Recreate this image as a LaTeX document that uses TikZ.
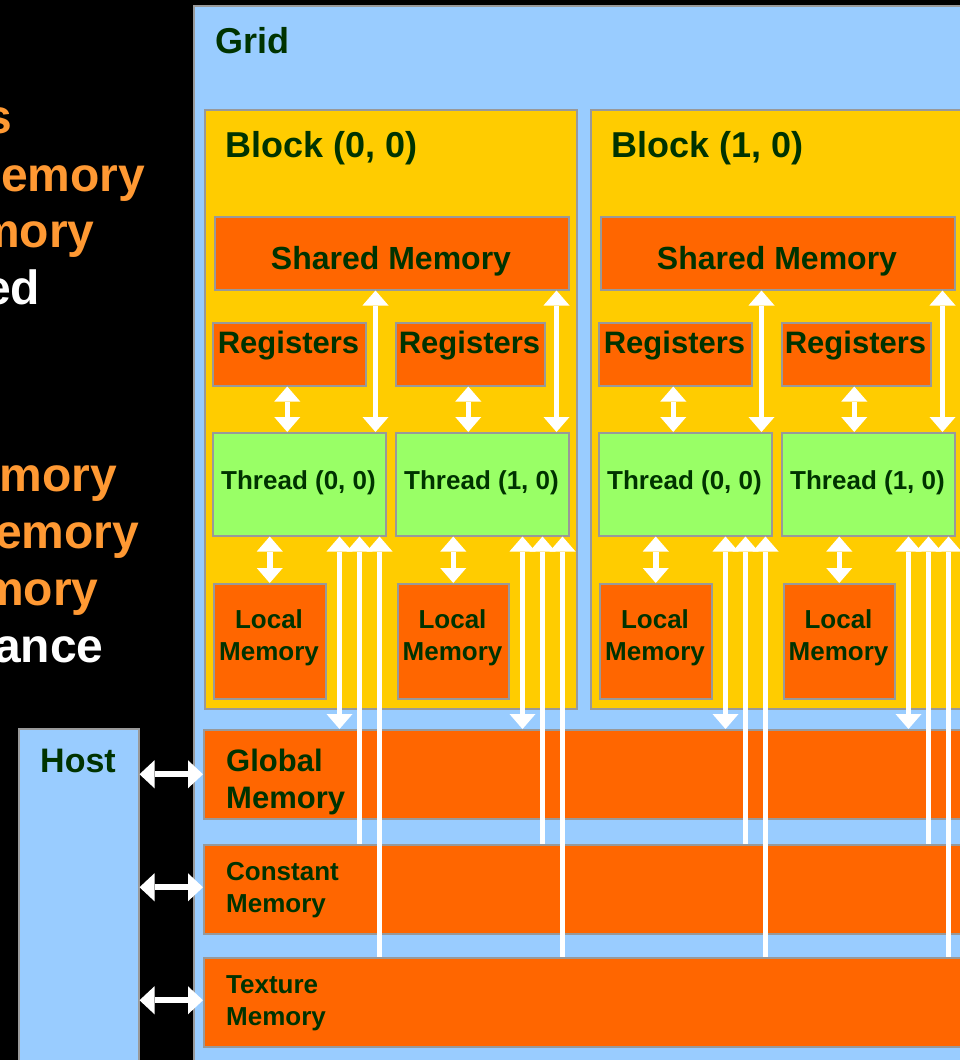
\documentclass[tikz,border=0pt]{standalone}
\usepackage{fontspec}
\setmainfont{Liberation Sans}
\usetikzlibrary{arrows.meta}
\definecolor{gblue}{HTML}{99CCFF}
\definecolor{gyel}{HTML}{FFCC00}
\definecolor{gorg}{HTML}{FF6600}
\definecolor{ggrn}{HTML}{99FF66}
\definecolor{gtxt}{HTML}{003300}
\definecolor{gedge}{HTML}{999999}
\definecolor{lorg}{HTML}{FF9933}
\begin{document}
\begin{tikzpicture}[x=1pt,y=-1pt,
  box/.style={draw=gedge,line width=1.5pt,inner sep=0pt,anchor=north west},
  txt/.style={text=gtxt,inner sep=0pt,font=\bfseries\fontsize{#1}{#1}\selectfont},
  side/.style={inner sep=0pt,anchor=base west,font=\bfseries\fontsize{48}{48}\selectfont},
  arr/.style={draw=white,line width=5.5pt},
  dbl/.style={arr,{Triangle[width=26pt,length=15pt,line width=0pt]}-{Triangle[width=26pt,length=15pt,line width=0pt]}},
  upa/.style={arr,{Triangle[width=26pt,length=15pt,line width=0pt]}-},
  harr/.style={draw=white,line width=6pt,{Triangle[width=28pt,length=15pt,line width=0pt]}-{Triangle[width=28pt,length=15pt,line width=0pt]}}
]
\fill[black] (0,0) rectangle (960,1060);
\useasboundingbox (0,0) rectangle (960,1060);
\begin{scope}
\clip (0,0) rectangle (960,1060);
% left side text fragments
\node[side,text=lorg] (l1) at (-15,133) {s};
\node[side,text=lorg] (l2) at (1,191) {emory};
\node[side,text=lorg] (l3) at (-23,247) {mory};
\node[side,text=white] (l4) at (-16,304) {ed};
\node[side,text=lorg] (l5) at (-27,491) {emory};
\node[side,text=lorg] (l6) at (-5,548) {emory};
\node[side,text=lorg] (l7) at (-19,605) {mory};
\node[side,text=white] (l8) at (-6,662) {ance};
% grid
\node[box,fill=gblue,minimum width=820pt,minimum height=1100pt] (grid) at (193,5) {};
\node[txt=36,anchor=base west] (gridlbl) at (215,53) {Grid};
% host
\node[box,fill=gblue,minimum width=120pt,minimum height=400pt] (host) at (18,728) {};
\node[txt=34,anchor=base] (hostlbl) at (78,772) {Host};
% device memories
\node[box,fill=gorg,minimum width=820pt,minimum height=89pt] (glob) at (203,729) {};
\node[box,fill=gorg,minimum width=820pt,minimum height=89pt] (cons) at (203,844) {};
\node[box,fill=gorg,minimum width=820pt,minimum height=89pt] (tex) at (203,957) {};
\node[txt=31,anchor=base west] (globa) at (226,771) {Global};
\node[txt=31,anchor=base west] (globb) at (226,808) {Memory};
\node[txt=26,anchor=base west] (consa) at (226,880) {Constant};
\node[txt=26,anchor=base west] (consb) at (226,912) {Memory};
\node[txt=26,anchor=base west] (texa) at (226,993) {Texture};
\node[txt=26,anchor=base west] (texb) at (226,1025) {Memory};
% blocks
\foreach \b/\dx in {0/0,1/386}{
  \node[box,fill=gyel,minimum width=372pt,minimum height=599pt] (blk\b) at (204+\dx,109) {};
  \node[txt=36,anchor=base west] (blklbl\b) at (225+\dx,157) {Block (\b, 0)};
  \node[box,fill=gorg,minimum width=354pt,minimum height=73pt] (shm\b) at (214+\dx,216) {};
  \node[txt=32,anchor=base] (shmlbl\b) at (391+\dx,269) {Shared Memory};
  \node[box,fill=gorg,minimum width=153pt,minimum height=63pt] (rega\b) at (212+\dx,322) {};
  \node[box,fill=gorg,minimum width=149pt,minimum height=63pt] (regb\b) at (395+\dx,322) {};
  \node[txt=31,anchor=base] (regalbl\b) at (288.5+\dx,353) {Registers};
  \node[txt=31,anchor=base] (regblbl\b) at (469.5+\dx,353) {Registers};
  \node[box,fill=ggrn,minimum width=173pt,minimum height=103pt] (tha\b) at (212+\dx,432) {};
  \node[box,fill=ggrn,minimum width=173pt,minimum height=103pt] (thb\b) at (395+\dx,432) {};
  \node[txt=26,anchor=base] (thalbl\b) at (298.5+\dx,489) {Thread (0, 0)};
  \node[txt=26,anchor=base] (thblbl\b) at (481.5+\dx,489) {Thread (1, 0)};
  \node[box,fill=gorg,minimum width=112pt,minimum height=115pt] (loca\b) at (213+\dx,583) {};
  \node[box,fill=gorg,minimum width=111pt,minimum height=115pt] (locb\b) at (397+\dx,583) {};
  \node[txt=26,anchor=base] (localbla\b) at (269+\dx,628) {Local};
  \node[txt=26,anchor=base] (localblb\b) at (269+\dx,660) {Memory};
  \node[txt=26,anchor=base] (locblbla\b) at (452.5+\dx,628) {Local};
  \node[txt=26,anchor=base] (locblblb\b) at (452.5+\dx,660) {Memory};
}
% connectors
\foreach \b in {0,1}{
  \foreach \t in {a,b}{
    \coordinate (rr\t\b) at ([xshift=-2pt]reg\t\b.south);
    \draw[dbl] (rr\t\b) -- (rr\t\b |- th\t\b.north);
    \draw[dbl] (loc\t\b.north) -- (loc\t\b.north |- th\t\b.south);
    \coordinate (g\t\b) at ([xshift=-47pt]th\t\b.south east);
    \coordinate (c\t\b) at ([xshift=-27pt]th\t\b.south east);
    \coordinate (x\t\b) at ([xshift=-7pt]th\t\b.south east);
    \draw[dbl] (g\t\b) -- (g\t\b |- glob.north);
    \draw[upa] (c\t\b) -- (c\t\b |- cons.north);
    \draw[upa] (x\t\b) -- (x\t\b |- tex.north);
  }
  \coordinate (sa\b) at ([xshift=-11pt]tha\b.north east);
  \coordinate (sb\b) at ([xshift=-13pt]thb\b.north east);
  \draw[dbl] (sa\b) -- (sa\b |- shm\b.south);
  \draw[dbl] (sb\b) -- (sb\b |- shm\b.south);
}
\draw[harr] (host.east |- glob.west) -- (glob.west);
\draw[harr] ([yshift=2pt]host.east |- cons.west) -- ([yshift=2pt]cons.west);
\draw[harr] ([yshift=2pt]host.east |- tex.west) -- ([yshift=2pt]tex.west);
\end{scope}
\end{tikzpicture}
\end{document}
